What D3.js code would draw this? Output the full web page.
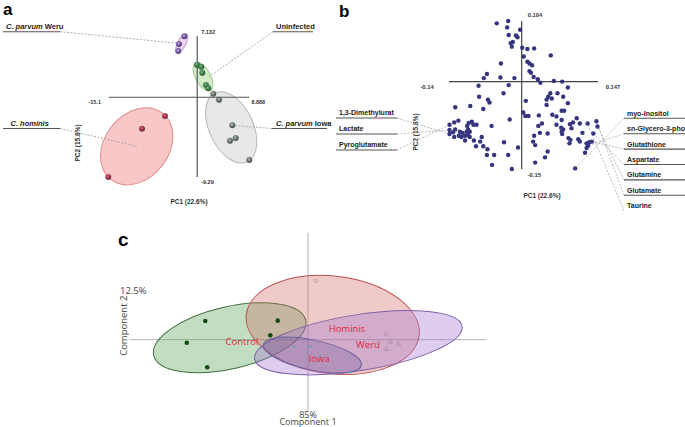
<!DOCTYPE html>
<html>
<head>
<meta charset="utf-8">
<script src="https://cdn.jsdelivr.net/npm/d3@7"></script>
<style>
  body { margin: 0; background: #fff; }
  svg { display: block; }
  text { font-family: "Liberation Sans", Arial, sans-serif; }
  .c-text { font-family: "Open Sans", "Noto Sans", sans-serif; }
</style>
</head>
<body>
<div id="chart"></div>
<script>
// ---------- panel a : PCA scores (PC1, PC2) ----------
const aHominis    = [[-5.49, -2.19], [-9.42, -3.67], [-15.17, -9.29]];
const aIowa       = [[2.75, 0.41], [3.72, -0.29], [5.99, -3.27], [5.60, -5.07], [6.57, -4.75], [8.89, -7.31]];
const aUninfected = [[-0.03, 3.79], [0.70, 3.55], [0.87, 2.85], [1.50, 1.42], [1.89, 1.04]];
const aWeru       = [[-2.20, 7.10], [-3.10, 6.20], [-3.22, 5.38]];
// confidence ellipses: centre PC1, centre PC2, radius (PC1 units), radius (PC2 units), tilt deg
const aEllipseHominis    = [-10.32, -5.71, 7.17, 3.73, -52];
const aEllipseIowa       = [5.80, -3.51, 6.48, 2.56, 65];
const aEllipseUninfected = [0.99, 2.39, 2.64, 0.87, 62];
const aEllipseWeru       = [-2.64, 6.28, 1.79, 0.47, -62];
const aAxisEnds = [-15.1, 8.888, -9.29, 7.132];   // xmin, xmax, ymin, ymax
const aAxisEndLabels = ["-15.1", "8.888", "-9.29", "7.132"];

// ---------- panel b : loadings ----------
const bAxisEnds = [-0.14, 0.147, -0.15, 0.104];
const bAxisEndLabels = ["-0.14", "0.147", "-0.15", "0.104"];
const bLoadings = [
  [-0.048,0.100],[-0.026,0.104],[-0.028,0.093],[-0.003,0.089],[-0.025,0.080],[-0.011,0.079],
  [-0.008,0.076],[-0.017,0.068],[-0.021,0.066],[-0.019,0.060],[0.001,0.058],[0.011,0.056],
  [0.024,0.057],[0.056,0.045],[0.004,0.043],[0.011,0.034],[0.015,0.031],[0.020,0.028],
  [-0.040,0.031],[0.015,0.018],[0.018,0.015],[-0.067,0.013],[-0.073,0.006],[-0.041,0.007],
  [-0.014,0.006],[0.023,0.008],[0.031,0.004],[0.036,-0.002],[0.062,0.001],[0.078,0.000],
  [0.089,-0.010],[-0.083,-0.007],[-0.025,-0.006],[-0.035,-0.020],[-0.082,-0.026],[-0.065,-0.031],
  [-0.062,-0.036],[-0.128,-0.044],[-0.099,-0.042],[-0.074,-0.047],[0.008,-0.033],[0.003,-0.053],
  [0.007,-0.059],[0.013,-0.059],[-0.023,-0.065],[0.033,-0.058],[0.055,-0.020],[0.051,-0.026],
  [0.058,-0.029],[0.069,-0.020],[0.048,-0.031],[0.080,-0.026],[0.089,-0.037],[0.048,-0.040],
  [0.077,-0.050],[0.082,-0.050],[0.059,-0.057],[0.067,-0.060],[0.077,-0.066],[0.106,-0.063],
  [0.099,-0.070],[0.112,-0.072],[0.127,-0.072],[0.144,-0.068],[0.146,-0.077],[0.138,-0.089],
  [0.039,-0.072],[0.032,-0.076],[0.067,-0.074],[0.076,-0.079],[0.080,-0.082],[0.077,-0.086],
  [0.078,-0.090],[0.093,-0.073],[0.096,-0.080],[0.117,-0.088],[0.035,-0.088],[0.050,-0.089],
  [0.024,-0.093],[0.090,-0.097],[0.094,-0.100],[0.092,-0.106],[0.109,-0.099],[0.112,-0.103],
  [0.125,-0.106],[0.130,-0.104],[0.135,-0.103],[0.128,-0.110],[0.022,-0.103],[0.026,-0.109],
  [0.122,-0.122],[0.125,-0.114],[0.050,-0.120],[0.045,-0.130],[0.026,-0.139],[0.103,-0.149],
  [-0.130,-0.070],[-0.122,-0.067],[-0.139,-0.074],[-0.102,-0.071],[-0.096,-0.069],[-0.093,-0.074],
  [-0.105,-0.076],[-0.087,-0.074],[-0.128,-0.082],[-0.132,-0.087],[-0.119,-0.086],[-0.114,-0.088],
  [-0.106,-0.086],[-0.100,-0.086],[-0.103,-0.082],[-0.139,-0.090],[-0.130,-0.095],[-0.121,-0.093],
  [-0.116,-0.095],[-0.109,-0.093],[-0.103,-0.092],[-0.100,-0.095],[-0.109,-0.101],[-0.092,-0.101],
  [-0.077,-0.095],[-0.058,-0.076],[-0.080,-0.103],[-0.088,-0.111],[-0.074,-0.111],[-0.066,-0.116],
  [-0.067,-0.126],[-0.053,-0.126],[-0.034,-0.104],[-0.007,-0.113],[-0.026,-0.126],[-0.057,-0.143],
  [-0.019,-0.150],[-0.139,-0.083]
];
const bLeftNames   = ["1,3-Dimethylurat", "Lactate", "Pyroglutamate"];
const bLeftPoint   = [111, 133, 98];
const bRightNames  = ["myo-Inositol", "sn-Glycero-3-pho", "Glutathione", "Aspartate", "Glutamine", "Glutamate", "Taurine"];
const bRightPoint  = [95, 87, 86, 65, 64, 63, 62];

// ---------- panel c : PLS-DA style scores ----------
const cControl = [[-0.577, 0.105], [-0.681, -0.017], [-0.566, -0.155], [-0.170, 0.107], [-0.212, 0.025]];
const cIowa    = [[-0.077, -0.039], [0.011, -0.039], [0.067, -0.096], [0.236, -0.183]];
const cHominis = [[0.043, 0.331], [0.438, 0.032], [0.395, -0.017]];
const cWeru    = [[0.461, -0.013], [0.507, -0.024], [0.442, -0.054]];
const cEllipseControl = [-0.440, 0.011, 0.438, 0.174, -13];
const cEllipseHominis = [0.139, 0.083, 0.489, 0.274, 7];
const cEllipseWeru    = [0.283, -0.017, 0.590, 0.157, -9];
const cEllipseIowa    = [0.025, -0.086, 0.281, 0.084, 12];
const cGroupLabels = ["Control", "Hominis", "Weru", "Iowa"];
const cLabelPos = [[-0.371, -0.03], [0.219, 0.045], [0.337, -0.049], [0.063, -0.127]];
const cAxisNames = ["Component 1", "Component 2"];
const cAxisPct = ["85%", "12.5%"];

const W = 685, H = 427;
const svg = d3.select("#chart").append("svg").attr("width", W).attr("height", H);
const defs = svg.append("defs");

function sphere(id, light, base) {
  const g = defs.append("radialGradient").attr("id", id).attr("cx", "40%").attr("cy", "35%").attr("r", "65%");
  g.append("stop").attr("offset", "0%").attr("stop-color", light);
  g.append("stop").attr("offset", "100%").attr("stop-color", base);
}
sphere("gHom", "#e0607a", "#7a1025");
sphere("gIowa", "#a9b5ad", "#44524a");
sphere("gUni", "#6fc07a", "#1f5a2a");
sphere("gWeru", "#b69ae0", "#4e3280");

function drawEllipse(g, x, y, e, fill, stroke, op) {
  const rx = Math.abs(x(e[2]) - x(0)), ry = Math.abs(y(e[3]) - y(0));
  g.append("ellipse")
    .attr("transform", `translate(${x(e[0])},${y(e[1])}) rotate(${e[4]})`)
    .attr("rx", rx).attr("ry", ry)
    .attr("fill", fill).attr("fill-opacity", op)
    .attr("stroke", stroke).attr("stroke-width", 1);
}

// =============== panel a ===============
(function() {
  const g = svg.append("g");
  const x = d3.scaleLinear().domain([aAxisEnds[0], aAxisEnds[1]]).range([108.7, 249.3]);
  const y = d3.scaleLinear().domain([aAxisEnds[2], aAxisEnds[3]]).range([177, 36]);

  g.append("text").attr("x", 3).attr("y", 15).attr("font-size", 17).attr("font-weight", "bold").text("a");

  drawEllipse(g, x, y, aEllipseHominis, "#f5b5b5", "#e08888", 0.75);
  drawEllipse(g, x, y, aEllipseIowa, "#e2e2e2", "#b8b8b8", 0.8);
  drawEllipse(g, x, y, aEllipseUninfected, "#cfe8bf", "#9ccc8a", 0.85);
  drawEllipse(g, x, y, aEllipseWeru, "#ecd3f2", "#c79ad6", 0.9);

  // axes through the origin
  g.append("line").attr("x1", x(aAxisEnds[0])).attr("x2", x(aAxisEnds[1])).attr("y1", y(0)).attr("y2", y(0))
    .attr("stroke", "#555").attr("stroke-width", 1.2);
  g.append("line").attr("x1", x(0)).attr("x2", x(0)).attr("y1", y(aAxisEnds[3])).attr("y2", y(aAxisEnds[2]))
    .attr("stroke", "#555").attr("stroke-width", 1.2);

  const tick = (tx, ty, t, anchor) => g.append("text").attr("x", tx).attr("y", ty).attr("font-size", 5.5)
    .attr("font-weight", "bold").attr("fill", "#333").attr("text-anchor", anchor).text(t);
  tick(x(aAxisEnds[0]) - 14, y(0) + 7, aAxisEndLabels[0], "middle");
  tick(x(aAxisEnds[1]) + 9, y(0) + 7, aAxisEndLabels[1], "middle");
  tick(x(0) + 4, y(aAxisEnds[2]) + 7, aAxisEndLabels[2], "start");
  tick(x(0) + 4, y(aAxisEnds[3]) - 2, aAxisEndLabels[3], "start");

  g.append("text").attr("x", 189).attr("y", 204).attr("font-size", 6.5).attr("font-weight", "bold")
    .attr("fill", "#333").attr("text-anchor", "middle").text("PC1 (22.6%)");
  g.append("text").attr("transform", "translate(80,143) rotate(-90)").attr("font-size", 6.5)
    .attr("font-weight", "bold").attr("fill", "#333").attr("text-anchor", "middle").text("PC2 (15.8%)");

  // leader lines
  const lead = (x1, y1, x2, y2) => g.append("line").attr("x1", x1).attr("y1", y1).attr("x2", x2).attr("y2", y2)
    .attr("stroke", "#999").attr("stroke-width", 0.8).attr("stroke-dasharray", "2,1.5");
  lead(60, 31.7, x(aEllipseWeru[0]) - 3, y(aEllipseWeru[1]));
  lead(273, 31.7, x(aEllipseUninfected[0]) + 6, y(aEllipseUninfected[1]));
  lead(272, 128.5, x(aIowa[2][0]), y(aIowa[2][1]));
  lead(60, 128.5, x(aEllipseHominis[0]), y(aEllipseHominis[1]));

  const under = (x1, x2, yy) => g.append("line").attr("x1", x1).attr("x2", x2).attr("y1", yy).attr("y2", yy)
    .attr("stroke", "#555").attr("stroke-width", 1.1);
  under(3, 60, 31.7); under(273, 313, 31.7); under(3, 60, 128.5); under(272, 327, 128.5);

  const lab = (tx, ty, it, rest) => {
    const t = g.append("text").attr("x", tx).attr("y", ty).attr("font-size", 7.5).attr("font-weight", "bold").attr("fill", "#222");
    t.append("tspan").attr("font-style", "italic").text(it);
    if (rest) t.append("tspan").text(rest);
  };
  lab(6, 29.2, "C. parvum", " Weru");
  lab(276, 29.2, "", "Uninfected");
  lab(10.5, 126, "C. hominis", "");
  lab(276, 126, "C. parvum", " Iowa");

  const pts = (data, grad) => g.selectAll(null).data(data).enter().append("circle")
    .attr("cx", d => x(d[0])).attr("cy", d => y(d[1])).attr("r", 2.8)
    .attr("fill", `url(#${grad})`).attr("stroke", "#333").attr("stroke-width", 0.3);
  pts(aHominis, "gHom"); pts(aIowa, "gIowa"); pts(aUninfected, "gUni"); pts(aWeru, "gWeru");
})();

// =============== panel b ===============
(function() {
  const g = svg.append("g");
  const x = d3.scaleLinear().domain([bAxisEnds[0], bAxisEnds[1]]).range([449, 598]);
  const y = d3.scaleLinear().domain([bAxisEnds[2], bAxisEnds[3]]).range([169, 21]);

  g.append("text").attr("x", 339).attr("y", 17).attr("font-size", 17).attr("font-weight", "bold").text("b");

  g.append("line").attr("x1", x(bAxisEnds[0])).attr("x2", x(bAxisEnds[1])).attr("y1", y(0)).attr("y2", y(0))
    .attr("stroke", "#444").attr("stroke-width", 1.2);
  g.append("line").attr("x1", x(0)).attr("x2", x(0)).attr("y1", y(bAxisEnds[3])).attr("y2", y(bAxisEnds[2]))
    .attr("stroke", "#444").attr("stroke-width", 1.2);

  const tick = (tx, ty, t, anchor) => g.append("text").attr("x", tx).attr("y", ty).attr("font-size", 5.8)
    .attr("font-weight", "bold").attr("fill", "#333").attr("text-anchor", anchor).text(t);
  tick(x(bAxisEnds[0]) - 22, y(0) + 7, bAxisEndLabels[0], "middle");
  tick(x(bAxisEnds[1]) + 15, y(0) + 7, bAxisEndLabels[1], "middle");
  tick(x(0) + 6, y(bAxisEnds[2]) + 8, bAxisEndLabels[2], "start");
  tick(x(0) + 6, y(bAxisEnds[3]) - 4, bAxisEndLabels[3], "start");

  g.append("text").attr("x", 542).attr("y", 198).attr("font-size", 6.5).attr("font-weight", "bold")
    .attr("fill", "#333").attr("text-anchor", "middle").text("PC1 (22.6%)");
  g.append("text").attr("transform", "translate(418,132) rotate(-90)").attr("font-size", 6.5)
    .attr("font-weight", "bold").attr("fill", "#333").attr("text-anchor", "middle").text("PC2 (15.8%)");

  const dash = (x1, y1, x2, y2) => g.append("line").attr("x1", x1).attr("y1", y1).attr("x2", x2).attr("y2", y2)
    .attr("stroke", "#aaa").attr("stroke-width", 0.8).attr("stroke-dasharray", "2,1.5");

  bLeftNames.forEach((n, i) => {
    const ly = 118 + i * 16;
    const p = bLoadings[bLeftPoint[i]];
    dash(397, ly, x(p[0]), y(p[1]));
    g.append("line").attr("x1", 336).attr("x2", 397).attr("y1", ly).attr("y2", ly).attr("stroke", "#555").attr("stroke-width", 1.1);
    g.append("text").attr("x", 339).attr("y", ly - 2.6).attr("font-size", 7).attr("font-weight", "bold").attr("fill", "#222").text(n);
  });
  bRightNames.forEach((n, i) => {
    const ly = 118.3 + i * 15.4;
    const p = bLoadings[bRightPoint[i]];
    dash(624, ly, x(p[0]), y(p[1]));
    if (i < bRightNames.length - 1)
      g.append("line").attr("x1", 624).attr("x2", 685).attr("y1", ly).attr("y2", ly).attr("stroke", "#555").attr("stroke-width", 1.1);
    g.append("text").attr("x", 627).attr("y", ly - 2.6).attr("font-size", 7).attr("font-weight", "bold").attr("fill", "#222").text(n);
  });

  g.selectAll(null).data(bLoadings).enter().append("circle")
    .attr("cx", d => x(d[0])).attr("cy", d => y(d[1])).attr("r", 2.2)
    .attr("fill", "#34357d");
})();

// =============== panel c ===============
(function() {
  const g = svg.append("g");
  const x = d3.scaleLinear().domain([-1, 1]).range([130, 486]);
  const y = d3.scaleLinear().domain([-0.4, 0.6]).range([410.9, 232.9]);

  g.append("text").attr("x", 118).attr("y", 246).attr("font-size", 19).attr("font-weight", "bold").text("c");

  g.append("line").attr("x1", x(-1)).attr("x2", x(1)).attr("y1", y(0)).attr("y2", y(0))
    .attr("stroke", "#b5b5b5").attr("stroke-width", 1);
  g.append("line").attr("x1", x(0)).attr("x2", x(0)).attr("y1", y(0.6)).attr("y2", y(-0.4))
    .attr("stroke", "#b5b5b5").attr("stroke-width", 1);

  drawEllipse(g, x, y, cEllipseControl, "#4f9f4f", "#3d6e3d", 0.35);
  drawEllipse(g, x, y, cEllipseHominis, "#cf6a62", "#b85050", 0.35);
  drawEllipse(g, x, y, cEllipseWeru, "#a070d0", "#8062a8", 0.35);
  drawEllipse(g, x, y, cEllipseIowa, "#6a5a9a", "#6a60a0", 0.3);

  g.selectAll(null).data(cControl).enter().append("circle")
    .attr("cx", d => x(d[0])).attr("cy", d => y(d[1])).attr("r", 2.3).attr("fill", "#124d12");
  g.selectAll(null).data(cIowa).enter().append("circle")
    .attr("cx", d => x(d[0])).attr("cy", d => y(d[1])).attr("r", 1.2).attr("fill", "#5aa7a7");
  g.selectAll(null).data(cHominis).enter().append("circle")
    .attr("cx", d => x(d[0])).attr("cy", d => y(d[1])).attr("r", 1.7)
    .attr("fill", "none").attr("stroke", "#b07f8f").attr("stroke-width", 0.6);
  g.selectAll(null).data(cWeru).enter().append("path")
    .attr("transform", d => `translate(${x(d[0])},${y(d[1])})`)
    .attr("d", d3.symbol(d3.symbolTriangle, 9))
    .attr("fill", "none").attr("stroke", "#a07fa0").attr("stroke-width", 0.6);

  g.selectAll(null).data(cGroupLabels).enter().append("text").attr("class", "c-text")
    .attr("x", (d, i) => x(cLabelPos[i][0])).attr("y", (d, i) => y(cLabelPos[i][1]))
    .attr("font-size", 9.5).attr("fill", "#e3263a").attr("text-anchor", "middle").text(d => d);

  g.append("text").attr("class", "c-text").attr("x", x(0)).attr("y", 417.5).attr("font-size", 9)
    .attr("fill", "#444").attr("text-anchor", "middle").text(cAxisPct[0]);
  g.append("text").attr("class", "c-text").attr("x", x(0)).attr("y", 424.5).attr("font-size", 9)
    .attr("fill", "#444").attr("text-anchor", "middle").text(cAxisNames[0]);
  g.append("text").attr("class", "c-text").attr("x", 120).attr("y", 294).attr("font-size", 9.5)
    .attr("fill", "#444").text(cAxisPct[1]);
  g.append("text").attr("class", "c-text").attr("transform", `translate(127,${y(0) - 14}) rotate(-90)`)
    .attr("font-size", 9.5).attr("fill", "#444").attr("text-anchor", "middle").text(cAxisNames[1]);
})();
</script>
</body>
</html>
